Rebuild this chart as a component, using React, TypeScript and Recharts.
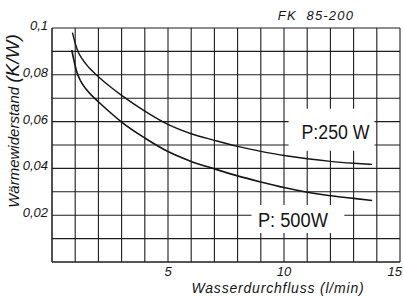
import { LineChart, Line, XAxis, YAxis, CartesianGrid, ReferenceArea } from 'recharts';

// Wasserdurchfluss (l/min) and Wärmewiderstand (K/W), P = 250 W
const flow250 = [0.88, 1.0, 1.12, 1.3, 1.6, 2, 2.5, 3, 4, 5, 6, 7, 8, 9, 10, 11, 12, 13, 13.8];
const r250 = [0.098, 0.0935, 0.09, 0.0868, 0.083, 0.0792, 0.075, 0.0712, 0.0645, 0.0588, 0.0548, 0.052, 0.0494, 0.0473, 0.0455, 0.0441, 0.043, 0.0422, 0.0417];

// Wasserdurchfluss (l/min) and Wärmewiderstand (K/W), P = 500 W
const flow500 = [0.85, 0.95, 1.06, 1.2, 1.5, 2, 2.5, 3, 4, 5, 6, 7, 8, 9, 10, 11, 12, 13, 13.8];
const r500 = [0.0906, 0.086, 0.0815, 0.078, 0.0735, 0.0685, 0.064, 0.0598, 0.053, 0.0472, 0.043, 0.0398, 0.0368, 0.0342, 0.0318, 0.0298, 0.0283, 0.0272, 0.0263];

const xTicks = [0, 1, 2, 3, 4, 5, 6, 7, 8, 9, 10, 11, 12, 13, 14, 15];
const xLabels = [5, 10, 15];
const yTicks = [0, 0.01, 0.02, 0.03, 0.04, 0.05, 0.06, 0.07, 0.08, 0.09, 0.1];
const yLabels = [0.02, 0.04, 0.06, 0.08, 0.1];

const data250 = flow250.map((x, i) => ({ x, r: r250[i] }));
const data500 = flow500.map((x, i) => ({ x, r: r500[i] }));

const INK = '#151515';
const GRID = '#1e1e1e';
const FONT = '"Liberation Sans", Arial, sans-serif';

const XTick = (props: any) => {
  const { x, y, payload } = props;
  if (!xLabels.includes(payload.value)) return null;
  const last = payload.value === 15;
  return (
    <text
      x={last ? x + 2 : x}
      y={y + 14}
      textAnchor={last ? 'end' : 'middle'}
      fontFamily={FONT}
      fontStyle="italic"
      fontSize={13}
      fill={INK}
    >
      {payload.value}
    </text>
  );
};

const YTick = (props: any) => {
  const { x, y, payload } = props;
  if (!yLabels.some((v) => Math.abs(v - payload.value) < 1e-9)) return null;
  return (
    <text
      x={x}
      y={y + 2}
      textAnchor="end"
      fontFamily={FONT}
      fontStyle="italic"
      fontSize={13}
      fill={INK}
    >
      {String(payload.value).replace('.', ',')}
    </text>
  );
};

const boxLabel = (text: string, width: number, dx: number, dy: number) => (props: any) => {
  const vb = props.viewBox || {};
  const cx = vb.x + vb.width / 2 + dx;
  const cy = vb.y + vb.height / 2 + dy;
  return (
    <text
      x={cx}
      y={cy}
      textAnchor="middle"
      fontFamily={FONT}
      fontSize={20}
      textLength={width}
      lengthAdjust="spacingAndGlyphs"
      fill={INK}
    >
      {text}
    </text>
  );
};

export default function App() {
  return (
    <div style={{ position: 'absolute', left: 0, top: 0, background: '#fff' }}>
      <LineChart width={403} height={296} margin={{ top: 28, right: 3, left: 0, bottom: 0 }}>
        <CartesianGrid stroke={GRID} strokeWidth={1.1} />
        <XAxis
          dataKey="x"
          type="number"
          domain={[0, 15]}
          ticks={xTicks}
          interval={0}
          allowDuplicatedCategory={false}
          tickLine={false}
          axisLine={{ stroke: GRID }}
          tickSize={0}
          tickMargin={0}
          height={34}
          tick={<XTick />}
        />
        <YAxis
          type="number"
          domain={[0, 0.1]}
          ticks={yTicks}
          interval={0}
          tickLine={false}
          axisLine={{ stroke: GRID }}
          tickSize={0}
          tickMargin={4}
          width={52}
          tick={<YTick />}
        />
        <ReferenceArea
          x1={10.2}
          x2={13.9}
          y1={0.0475}
          y2={0.0655}
          fill="#fff"
          fillOpacity={1}
          stroke="none"
          label={boxLabel('P:250 W', 68, 4, 9)}
        />
        <ReferenceArea
          x1={8.6}
          x2={12.6}
          y1={0.0124}
          y2={0.0244}
          fill="#fff"
          fillOpacity={1}
          stroke="none"
          label={boxLabel('P: 500W', 70, -5, 8)}
        />
        <Line data={data250} type="monotone" dataKey="r" stroke={INK} strokeWidth={1.4} dot={false} isAnimationActive={false} />
        <Line data={data500} type="monotone" dataKey="r" stroke={INK} strokeWidth={1.6} dot={false} isAnimationActive={false} />
        <text x={316} y={20} textAnchor="middle" fontFamily={FONT} fontStyle="italic" fontSize={13} letterSpacing={1.2} fill={INK}>
          {'FK\u00a0\u00a085-200'}
        </text>
        <text x={278} y={293} textAnchor="middle" fontFamily={FONT} fontStyle="italic" fontSize={14} letterSpacing={0.8} fill={INK}>
          Wasserdurchfluss (l/min)
        </text>
        <text
          x={0}
          y={0}
          transform="translate(19,121) rotate(-90)"
          textAnchor="middle"
          fontFamily={FONT}
          fontStyle="italic"
          fill={INK}
        >
          <tspan fontSize={15}>Wärmewiderstand </tspan>
          <tspan fontSize={19}>(K/W)</tspan>
        </text>
      </LineChart>
    </div>
  );
}
